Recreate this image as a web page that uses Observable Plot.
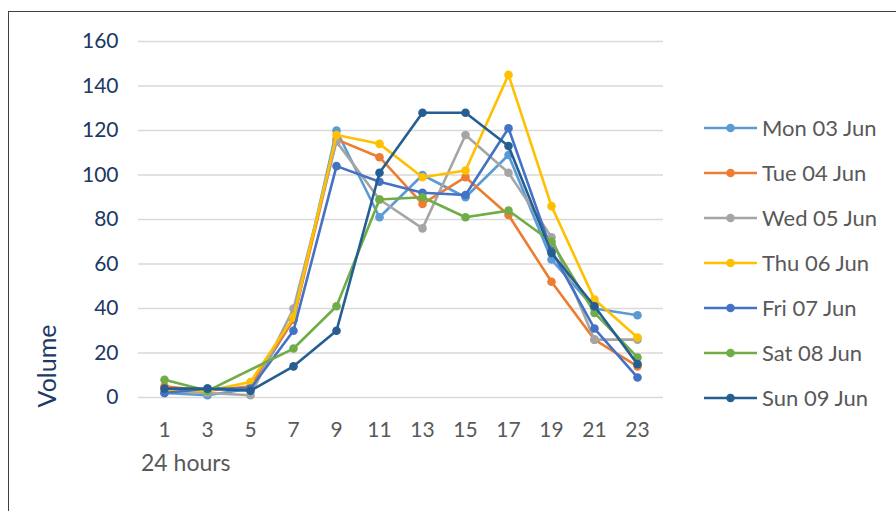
<!DOCTYPE html>
<html>
<head>
<meta charset="utf-8">
<script src="https://cdn.jsdelivr.net/npm/d3@7"></script>
<script src="https://cdn.jsdelivr.net/npm/@observablehq/plot@0.6"></script>
<style>
  html, body { margin: 0; padding: 0; background: #fff; }
  #wrap { position: relative; width: 896px; height: 511px; overflow: hidden; font-family: Lato, "Open Sans", sans-serif; }
  #frame { position: absolute; left: 8px; top: 11px; width: 920px; height: 540px; border: 1.5px solid #404040; pointer-events: none; }
  #ylabel { position: absolute; left: 46px; top: 366px; transform: translate(-50%, -50%) rotate(-90deg); color: #203864; font-size: 25px; white-space: nowrap; }
  #xlabel { position: absolute; left: 141px; top: 462px; transform: translateY(-50%); color: #595959; font-size: 23px; white-space: nowrap; }
  #legend { position: absolute; left: 704px; top: 105px; }
  .row { display: flex; align-items: center; height: 45px; color: #595959; font-size: 22px; white-space: nowrap; }
  .row svg { margin-right: 5px; }
</style>
</head>
<body>
<div id="wrap">
  <div id="chart"></div>
  <div id="frame"></div>
  <div id="ylabel">Volume</div>
  <div id="xlabel">24 hours</div>
  <div id="legend"></div>
</div>
<script>
// Categories (hour of day)
const hours = [1, 3, 5, 7, 9, 11, 13, 15, 17, 19, 21, 23];
// Series names and colours
const seriesNames = ["Mon 03 Jun", "Tue 04 Jun", "Wed 05 Jun", "Thu 06 Jun", "Fri 07 Jun", "Sat 08 Jun", "Sun 09 Jun"];
const seriesColors = ["#5B9BD5", "#ED7D31", "#A5A5A5", "#FFC000", "#4472C4", "#70AD47", "#255E91"];
// Series values
const mon = [2, 1, 4, 35, 120, 81, 100, 90, 109, 62, 40, 37];
const tue = [5, 3, 5, 35, 116, 108, 87, 99, 82, 52, 26, 14];
const wed = [3, 2, 1, 40, 115, 89, 76, 118, 101, 72, 26, 26];
const thu = [3, 3, 7, 36, 118, 114, 99, 102, 145, 86, 44, 27];
const fri = [2, 4, 4, 30, 104, 97, 92, 91, 121, 66, 31, 9];
const sat = [8, 3, null, 22, 41, 89, 90, 81, 84, 70, 38, 18];
const sun = [4, 4, 3, 14, 30, 101, 128, 128, 113, 65, 41, 15];
// Y-axis tick labels
const yTicks = [0, 20, 40, 60, 80, 100, 120, 140, 160];
// Axis titles
const xTitle = "24 hours";
const yTitle = "Volume";

const seriesValues = [mon, tue, wed, thu, fri, sat, sun];
const rows = seriesNames.flatMap((s, i) =>
  hours.map((h, j) => ({series: s, hour: h, value: seriesValues[i][j]}))
).filter(d => d.value != null);

const seriesMarks = seriesNames.flatMap((s, i) => {
  const data = rows.filter(d => d.series === s);
  return [
    Plot.line(data, {x: "hour", y: "value", stroke: seriesColors[i], strokeWidth: 2.6}),
    Plot.dot(data, {x: "hour", y: "value", r: 4.3, fill: seriesColors[i], stroke: "none"})
  ];
});

const chart = Plot.plot({
  width: 896,
  height: 511,
  marginLeft: 138,
  marginRight: 233,
  marginTop: 41,
  marginBottom: 114,
  style: {fontFamily: "Lato, 'Open Sans', sans-serif", background: "transparent"},
  x: {type: "point", domain: hours, padding: 0.5},
  y: {domain: [0, 160]},
  marks: [
    Plot.gridY(yTicks, {stroke: "#D9D9D9", strokeWidth: 1.5, strokeOpacity: 1}),
    Plot.axisY(yTicks, {tickSize: 0, tickPadding: 20, fontSize: 21, fill: "#203864", label: null}),
    Plot.axisX(hours, {tickSize: 0, tickPadding: 25, fontSize: 21, fill: "#595959", label: null}),
    ...seriesMarks
  ]
});
document.getElementById("chart").appendChild(chart);
document.getElementById("xlabel").textContent = xTitle;
document.getElementById("ylabel").textContent = yTitle;

// Legend
const legend = document.getElementById("legend");
seriesNames.forEach((s, i) => {
  const row = document.createElement("div");
  row.className = "row";
  row.innerHTML = `<svg width="53" height="12"><line x1="0" y1="6" x2="53" y2="6" stroke="${seriesColors[i]}" stroke-width="2.6"/><circle cx="26.5" cy="6" r="4.3" fill="${seriesColors[i]}"/></svg><span>${s}</span>`;
  legend.appendChild(row);
});
</script>
</body>
</html>
